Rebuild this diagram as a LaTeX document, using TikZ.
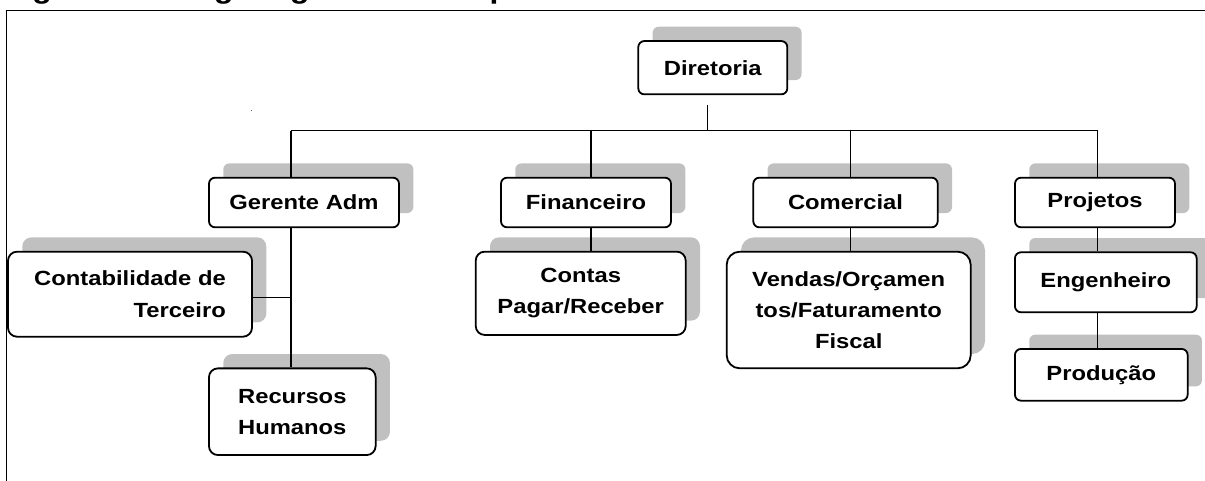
\documentclass[tikz,border=0pt]{standalone}
\usepackage{fontspec}
\usetikzlibrary{shadows}
\newfontfamily\orgfont{Liberation Sans}[FakeStretch=1.16]
\definecolor{orgShadow}{RGB}{192,192,192}
\definecolor{orgLine}{RGB}{0,0,0}

\begin{document}
\begin{tikzpicture}[x=0.5pt, y=-0.5pt,
  orgbox/.style={draw=orgLine, line width=0.9pt, rounded corners=3pt, fill=white,
    inner sep=0pt, align=center, font=\orgfont\bfseries\fontsize{10.25}{15.6}\selectfont,
    drop shadow={shadow xshift=7.15pt, shadow yshift=7.15pt, fill=orgShadow, opacity=1}},
  link/.style={draw=orgLine, line width=0.55pt}]
  \clip (0,0) rectangle (1205,481);

  % title, cut off by the page top
  \node[anchor=base west, inner sep=0pt, font=\orgfont\bfseries\fontsize{13.7}{16}\selectfont]
    (title) at (3.6,-1.8) {Figura 1 — Organograma da Empresa};
  \draw[line width=0.6pt] (1205,10.7) -- (6.5,10.7) -- (6.5,481);
  \fill[black!60] (251.2,110.2) rectangle (252.4,111.4);

  % top level
  \node[orgbox, minimum width=74.5pt, minimum height=26.65pt] (dir) at (712.8,67.7) {Diretoria};

  % departments
  \node[orgbox, minimum width=95pt, minimum height=24.8pt] (adm) at (304,202.5) {Gerente Adm};
  \node[orgbox, minimum width=85pt, minimum height=24.8pt] (fin) at (586,202.5) {Financeiro};
  \node[orgbox, minimum width=92.2pt, minimum height=24.8pt] (com) at (845.5,202.5) {Comercial};
  \node[orgbox, minimum width=80pt, minimum height=24.8pt] (proj) at (1095,202.5) {Projetos};

  % sectors
  \node[orgbox, align=right, rounded corners=4.5pt, minimum width=122pt, minimum height=42.5pt]
    (cont) at (130,294.2) {Contabilidade de\\Terceiro};
  \node[orgbox, rounded corners=4.5pt, minimum width=83.35pt, minimum height=43.35pt]
    (rh) at (292.3,411.7) {Recursos\\Humanos};
  \node[orgbox, rounded corners=4.5pt, minimum width=105pt, minimum height=41.65pt]
    (contas) at (580.7,293.3) {Contas\\Pagar/Receber};
  \node[orgbox, rounded corners=6.5pt, minimum width=122pt, minimum height=58.3pt]
    (vend) at (848.7,310) {Vendas/Orçamen\\tos/Faturamento\\Fiscal};
  \node[orgbox, minimum width=90.85pt, minimum height=30pt]
    (eng) at (1105.8,282.3) {\raisebox{2.5pt}{Engenheiro}};
  \node[orgbox, minimum width=86.35pt, minimum height=25.85pt]
    (prod) at (1101.3,374.8) {Produção};

  % connectors
  \coordinate (bus) at (707.7,130.7);
  \coordinate (busA) at (291,130.7);
  \coordinate (busF) at (591,130.7);
  \coordinate (busC) at (850.7,130.7);
  \coordinate (busP) at (1097.7,130.7);
  \draw[link] (busA) -- (busP);
  \draw[link] (bus) -- ([yshift=-4.85pt]bus |- dir.south);

  \draw[link] (busA) -- (busA |- adm.north);
  \draw[link] (busA |- adm.south) -- (busA |- rh.north);
  \coordinate (contR) at ([yshift=-1.75pt]cont.east);
  \draw[link] (contR) -- (contR -| busA);

  \draw[link] (busF) -- (busF |- fin.north);
  \draw[link] (busF |- fin.south) -- (busF |- contas.north);

  \draw[link] (busC) -- (busC |- com.north);
  \draw[link] (busC |- com.south) -- (busC |- vend.north);

  \draw[link] (busP) -- (busP |- proj.north);
  \draw[link] (busP |- proj.south) -- (busP |- eng.north);
  \draw[link] (busP |- eng.south) -- (busP |- prod.north);
\end{tikzpicture}
\end{document}
